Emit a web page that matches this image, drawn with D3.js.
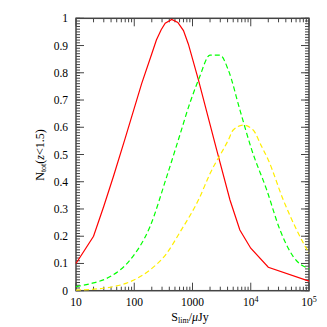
<!DOCTYPE html>
<html>
<head>
<meta charset="utf-8">
<script src="https://cdn.jsdelivr.net/npm/d3@7"></script>
<style>
  body { margin: 0; background: #fff; }
  text { font-family: "Liberation Serif", "DejaVu Serif", serif; fill: #000; }
</style>
</head>
<body>
<div id="chart"></div>
<script>
var width = 327
var height = 327
var margin = {top: 18.3, bottom: 36.3, left: 76, right: 18}

// S_lim (uJy) and N_tot(z<1.5) for the three curves
var redS = [10, 20, 30, 44, 70, 134, 200, 240, 290, 340, 440, 560, 700, 850, 1260, 2600, 4400, 6500, 10000, 20000, 100000]
var redN = [0.1, 0.2, 0.31, 0.42, 0.56, 0.76, 0.87, 0.92, 0.958, 0.982, 0.996, 0.985, 0.955, 0.905, 0.775, 0.517, 0.333, 0.223, 0.156, 0.086, 0.035]

var greenS = [10, 17, 38, 85, 186, 360, 570, 906, 1300, 2000, 2960, 4120, 6530, 10400, 18800, 31800, 53700, 100000]
var greenN = [0.015, 0.025, 0.051, 0.113, 0.235, 0.418, 0.553, 0.69, 0.78, 0.865, 0.865, 0.81, 0.663, 0.517, 0.37, 0.223, 0.125, 0.08]

var yellowS = [10, 29, 85, 186, 360, 610, 1310, 2000, 4120, 5000, 7450, 11000, 15400, 20000, 36200, 61400, 100000]
var yellowN = [0.002, 0.009, 0.033, 0.076, 0.137, 0.215, 0.34, 0.43, 0.553, 0.59, 0.608, 0.59, 0.529, 0.48, 0.333, 0.223, 0.137]

var xTicks = [10, 100, 1000, 10000, 100000]
var xTickLabels = ["10", "100", "1000", "10|4", "10|5"]
var yTicks = [0, 0.1, 0.2, 0.3, 0.4, 0.5, 0.6, 0.7, 0.8, 0.9, 1]
var yTickLabels = ["0", "0.1", "0.2", "0.3", "0.4", "0.5", "0.6", "0.7", "0.8", "0.9", "1"]

var svg = d3.select("#chart").append("svg").attr("width", width).attr("height", height)

var x = d3.scaleLog().domain([10, 100000]).range([margin.left, width - margin.right])
var y = d3.scaleLinear().domain([0, 1]).range([height - margin.bottom, margin.top])

var x0 = x.range()[0], x1 = x.range()[1], y0 = y.range()[0], y1 = y.range()[1]
var axisColor = "#444"

// minor / major tick values
var xMinor = []
for (var e = 1; e < 5; e++) {
    for (var k = 2; k <= 9; k++) xMinor.push(k * Math.pow(10, e))
}
var yMinor = d3.range(0, 101).map(function(i){ return i / 100 })

var ticks = svg.append("g").attr("stroke", axisColor).attr("stroke-width", 1)

// x ticks, bottom and top, pointing inward
xMinor.forEach(function(v){
    ticks.append("line").attr("x1", x(v)).attr("x2", x(v)).attr("y1", y0).attr("y2", y0 - 4)
    ticks.append("line").attr("x1", x(v)).attr("x2", x(v)).attr("y1", y1).attr("y2", y1 + 4)
})
xTicks.forEach(function(v){
    ticks.append("line").attr("x1", x(v)).attr("x2", x(v)).attr("y1", y0).attr("y2", y0 - 8)
    ticks.append("line").attr("x1", x(v)).attr("x2", x(v)).attr("y1", y1).attr("y2", y1 + 8)
})
// y ticks, left and right
yMinor.forEach(function(v){
    ticks.append("line").attr("x1", x0).attr("x2", x0 + 4).attr("y1", y(v)).attr("y2", y(v))
    ticks.append("line").attr("x1", x1).attr("x2", x1 - 4).attr("y1", y(v)).attr("y2", y(v))
})
yTicks.forEach(function(v){
    ticks.append("line").attr("x1", x0).attr("x2", x0 + 8).attr("y1", y(v)).attr("y2", y(v))
    ticks.append("line").attr("x1", x1).attr("x2", x1 - 8).attr("y1", y(v)).attr("y2", y(v))
})

// frame
svg.append("rect")
    .attr("x", x0).attr("y", y1)
    .attr("width", x1 - x0).attr("height", y0 - y1)
    .attr("fill", "none").attr("stroke", axisColor).attr("stroke-width", 1.5)

// tick labels
svg.selectAll(".ylab").data(yTicks).enter().append("text")
    .attr("class", "ylab")
    .attr("x", x0 - 8)
    .attr("y", function(d){ return y(d) + 4 })
    .attr("text-anchor", "end")
    .style("font-size", "11.5px")
    .text(function(d, i){ return yTickLabels[i] })

xTicks.forEach(function(v, i){
    var parts = xTickLabels[i].split("|")
    var t = svg.append("text")
        .attr("x", x(v))
        .attr("y", y0 + 15)
        .attr("text-anchor", "middle")
        .style("font-size", "11.5px")
    t.append("tspan").text(parts[0])
    if (parts.length > 1) {
        t.append("tspan").attr("dy", -4).style("font-size", "8px").text(parts[1])
    }
})

// axis titles
var xt = svg.append("text")
    .attr("x", 190).attr("y", 321)
    .attr("text-anchor", "middle")
    .style("font-size", "12px")
xt.append("tspan").text("S")
xt.append("tspan").attr("dy", 2).style("font-size", "8px").text("lim")
xt.append("tspan").attr("dy", -2).text("/")
xt.append("tspan").style("font-style", "italic").text("μ")
xt.append("tspan").text("Jy")

var yt = svg.append("text")
    .attr("transform", "translate(44,155) rotate(-90)")
    .attr("text-anchor", "middle")
    .style("font-size", "12px")
yt.append("tspan").text("N")
yt.append("tspan").attr("dy", 2).style("font-size", "8px").text("tot")
yt.append("tspan").attr("dy", -2).text("(")
yt.append("tspan").style("font-style", "italic").text("z")
yt.append("tspan").text("<1.5)")

// curves
var series = [
    {s: redS, n: redN, color: "#ff0000", dash: null, curve: d3.curveLinear},
    {s: greenS, n: greenN, color: "#00ff00", dash: "5,3", curve: d3.curveMonotoneX},
    {s: yellowS, n: yellowN, color: "#ffee00", dash: "5,3", curve: d3.curveMonotoneX}
]

series.forEach(function(sr){
    var pts = sr.s.map(function(v, i){ return [v, sr.n[i]] })
    var line = d3.line()
        .x(function(d){ return x(d[0]) })
        .y(function(d){ return y(d[1]) })
        .curve(sr.curve)
    svg.append("path")
        .attr("d", line(pts))
        .attr("fill", "none")
        .attr("stroke", sr.color)
        .attr("stroke-width", 1.2)
        .attr("stroke-dasharray", sr.dash)
})
</script>
</body>
</html>
